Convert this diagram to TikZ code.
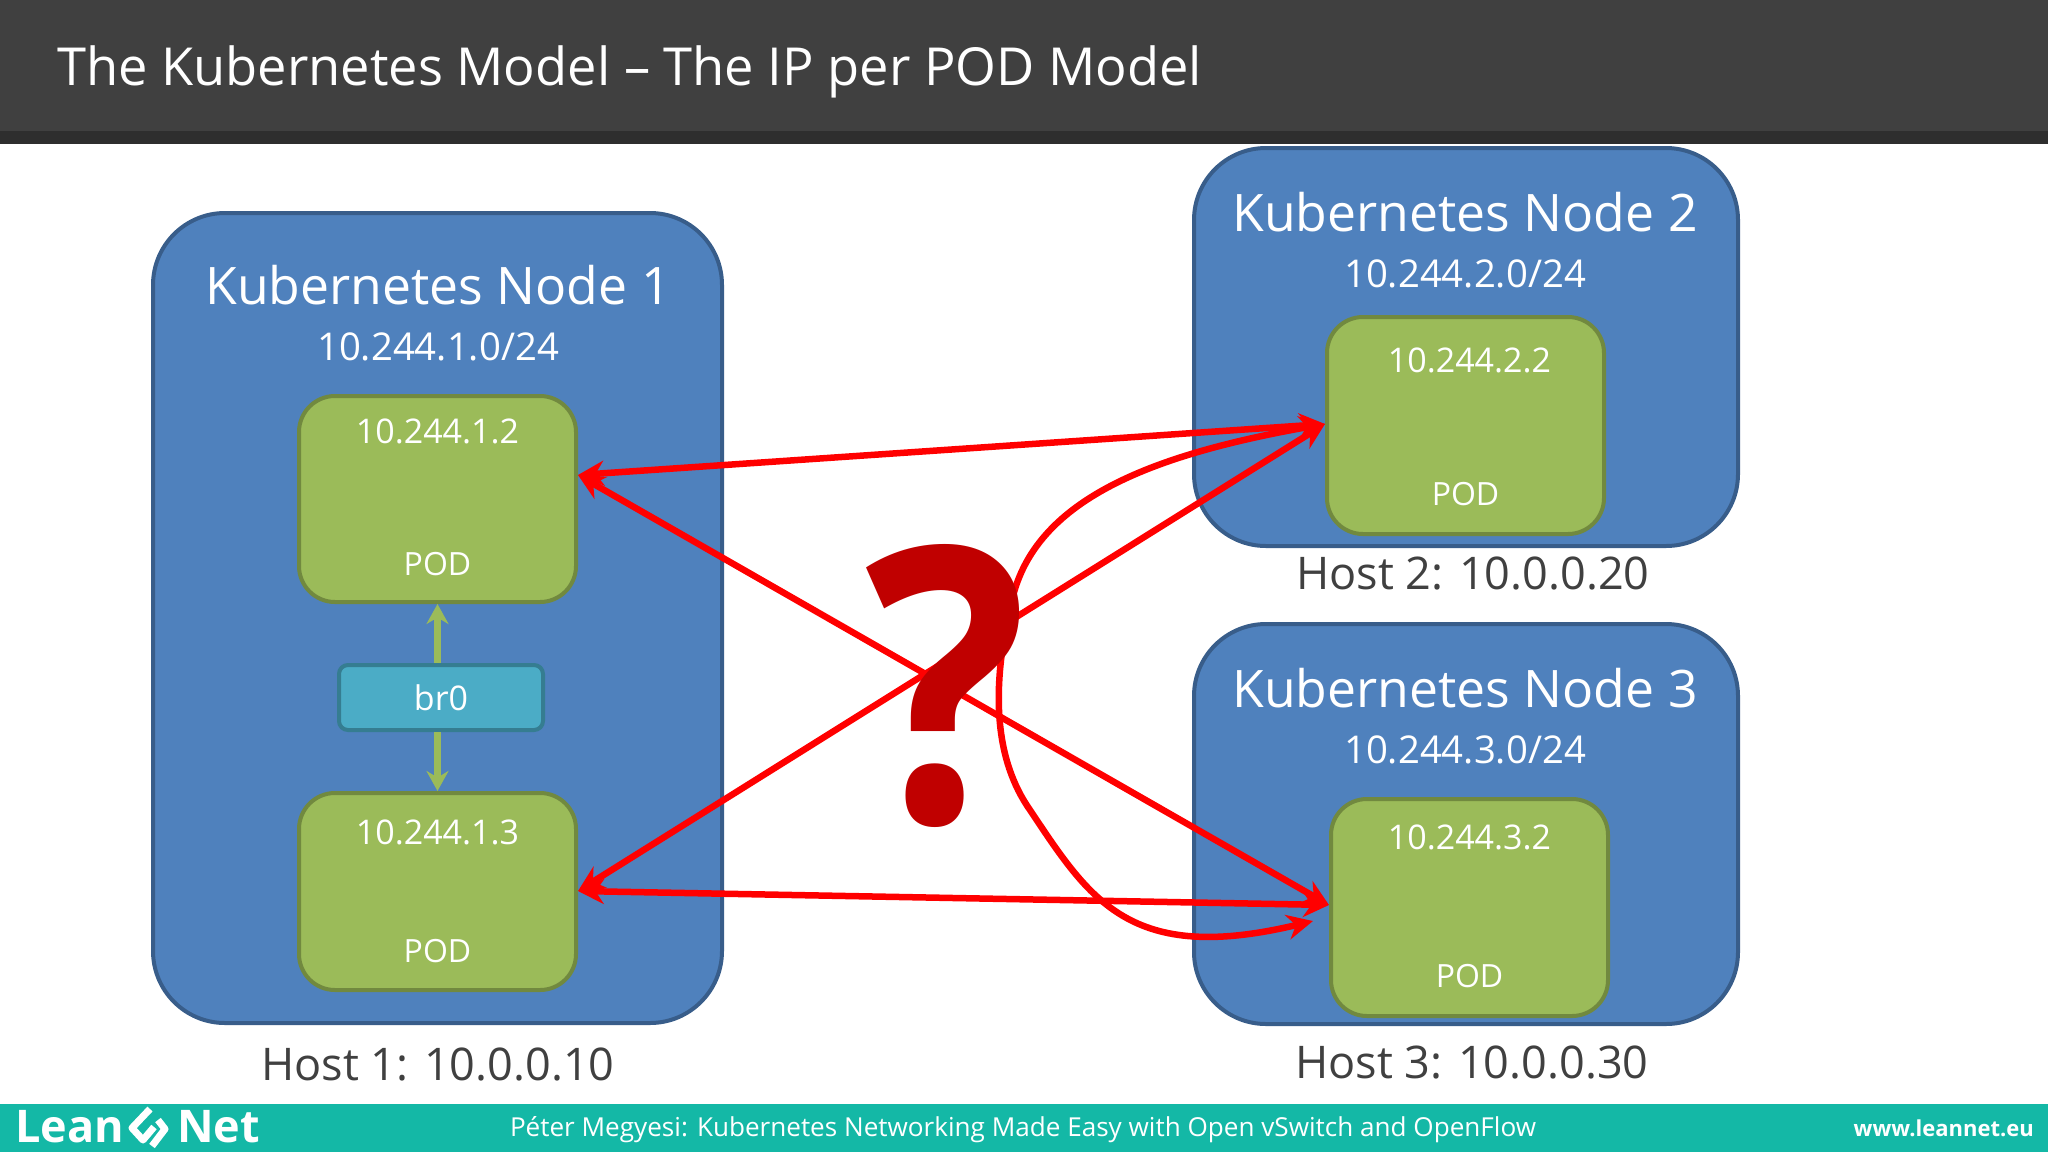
\documentclass[tikz,border=0pt]{standalone}
\usepackage{fontspec}
\setmainfont{Open Sans}
\usetikzlibrary{positioning, calc, arrows.meta}
\definecolor{nodeblue}{HTML}{4F81BD}
\definecolor{nodeline}{HTML}{385D8A}
\definecolor{podgreen}{HTML}{9BBB59}
\definecolor{podline}{HTML}{71893F}
\definecolor{brblue}{HTML}{4BACC6}
\definecolor{brline}{HTML}{357D91}
\definecolor{barteal}{HTML}{14B8A6}
\definecolor{qred}{HTML}{C00000}
\definecolor{hosttext}{HTML}{404040}
\newcommand{\px}[1]{\fontsize{#1}{#1}\selectfont}
\tikzset{
	kubenode/.style = {draw = nodeline, fill = nodeblue, line width = 4pt, rounded corners = 72pt, inner sep = 0pt},
	podbox/.style = {draw = podline, fill = podgreen, line width = 4pt, rounded corners = 36pt, minimum width = 277pt, inner sep = 0pt},
	whitetext/.style = {text = white, inner sep = 0pt},
	hostlabel/.style = {text = hosttext, font = \px{45}, inner sep = 0pt},
	redarrow/.style = {draw = red, line width = 6.5pt, {Stealth[length=26pt,width=25pt]}-{Stealth[length=26pt,width=25pt]}},
	bridgearrow/.style = {draw = podgreen, line width = 7pt, -{Stealth[length=20pt,width=22pt]}}
}

\begin{document}
\begin{tikzpicture}[x = 1pt, y = -1pt]
	\useasboundingbox (0,0) rectangle (2048,1152);
	\fill[white] (0,0) rectangle (2048,1152);

	% header and footer
	\fill[black!75] (0,0) rectangle (2048,131);
	\fill[black!82] (0,131) rectangle (2048,144);
	\fill[barteal] (0,1104) rectangle (2048,1152);
	\node[anchor = west, text = white, font = \px{52.4}, inner sep = 0pt] (title) at (57,72) {The Kubernetes Model – The IP per POD Model};
	\node[anchor = center, text = white, font = \px{26.1}, inner sep = 0pt] (talk) at (1023,1130) {Péter Megyesi: Kubernetes Networking Made Easy with Open vSwitch and OpenFlow};
	\node[anchor = east, text = white, font = \bfseries\px{22}, inner sep = 0pt] (site) at (2034,1128) {www.leannet.eu};
	\node[anchor = west, text = white, font = \bfseries\px{45}, inner sep = 0pt] (lean) at (15,1127) {Lean};
	\node[anchor = west, text = white, font = \bfseries\px{45}, inner sep = 0pt] (net) at (177,1127) {Net};
	\draw[white, line width = 7pt, line join = round] (150,1109) -- (132,1128) -- (143,1140) -- (154,1127);
	\draw[white, line width = 7pt, line join = round] (158,1120) -- (165,1129) -- (152,1146);

	% kubernetes nodes
	\node[kubenode, minimum width = 569pt, minimum height = 810pt] (node1) at (437.5,618) {};
	\node[kubenode, minimum width = 544pt, minimum height = 398pt] (node2) at (1466,347) {};
	\node[kubenode, minimum width = 544pt, minimum height = 400pt] (node3) at (1466,824) {};

	\node[whitetext, font = \px{51.7}] (name1) at (438,285) {Kubernetes Node 1};
	\node[whitetext, font = \px{38.3}, below = 27pt of name1] (net1) {10.244.1.0/24};
	\node[whitetext, font = \px{51.7}] (name2) at (1465,212) {Kubernetes Node 2};
	\node[whitetext, font = \px{38.3}, below = 27pt of name2] (net2) {10.244.2.0/24};
	\node[whitetext, font = \px{51.7}] (name3) at (1465,688) {Kubernetes Node 3};
	\node[whitetext, font = \px{38.3}, below = 27pt of name3] (net3) {10.244.3.0/24};

	% pods
	\node[podbox, minimum height = 206pt] (pod12) at (437.5,499) {};
	\node[podbox, minimum height = 197pt] (pod13) at (437.5,891.5) {};
	\node[podbox, minimum height = 217pt] (pod22) at (1465.5,425.5) {};
	\node[podbox, minimum height = 217pt] (pod32) at (1469.5,907.5) {};

	\node[whitetext, font = \px{34}, below = 25pt of pod12.north] (ip12) {10.244.1.2};
	\node[whitetext, font = \px{32}, above = 28pt of pod12.south] (lbl12) {POD};
	\node[whitetext, font = \px{34}, below = 29pt of pod13.north] (ip13) {10.244.1.3};
	\node[whitetext, font = \px{32}, above = 29pt of pod13.south] (lbl13) {POD};
	\node[whitetext, font = \px{34}, below = 33pt of pod22.north, xshift = 4pt] (ip22) {10.244.2.2};
	\node[whitetext, font = \px{32}, above = 30pt of pod22.south] (lbl22) {POD};
	\node[whitetext, font = \px{34}, below = 28pt of pod32.north] (ip32) {10.244.3.2};
	\node[whitetext, font = \px{32}, above = 30pt of pod32.south] (lbl32) {POD};

	% bridge
	\node[draw = brline, fill = brblue, line width = 4pt, rounded corners = 9pt, minimum width = 204pt, minimum height = 65pt, text = white, font = \px{34}] (br0) at (441,697.5) {br0};
	\draw[bridgearrow] (br0.north -| pod12.south) -- (pod12.south);
	\draw[bridgearrow] (br0.south -| pod13.north) -- (pod13.north);

	% hosts
	\node[hostlabel] (host1) at (438,1064) {Host 1: 10.0.0.10};
	\node[hostlabel] (host2) at (1473,573) {Host 2: 10.0.0.20};
	\node[hostlabel] (host3) at (1472,1062) {Host 3: 10.0.0.30};

	% connections
	\coordinate (left12) at (pod12.east |- 0,475);
	\coordinate (left13) at (pod13.east |- 0,891);
	\coordinate (right22) at (pod22.west |- 0,424);
	\coordinate (right32) at (pod32.west |- 0,905);
	\coordinate (curveend) at (1313,921);
	\draw[redarrow] (left12) -- (right22);
	\draw[redarrow] (left12) -- (right32);
	\draw[redarrow] (left13) -- (right22);
	\draw[redarrow] (left13) -- (right32);
	\draw[redarrow] (right22) .. controls (1150,455) and (1035,500) .. (1012,600) .. controls (990,690) and (995,760) .. (1030,810) .. controls (1090,900) and (1130,965) .. (curveend);

	\node[text = qred, font = \bfseries\px{400}, inner sep = 0pt] (question) at (947,686) {\scalebox{0.85}[0.96]{?}};
\end{tikzpicture}
\end{document}
